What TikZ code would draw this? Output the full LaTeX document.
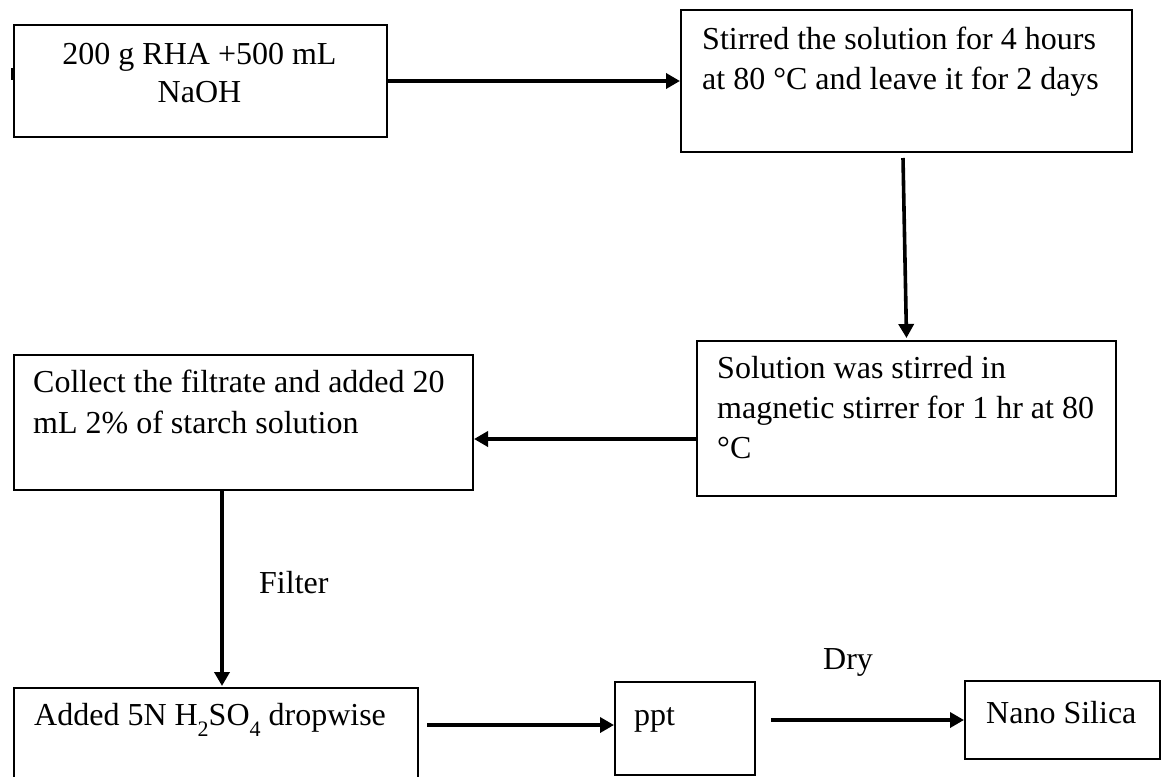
\documentclass[tikz,border=0pt]{standalone}
\usepackage{fontspec}
\setmainfont{Liberation Serif}
\usetikzlibrary{arrows.meta}
% low-set subscript used in the chemical formula
\newcommand{\lowsub}[1]{\raisebox{-11pt}{\fontsize{22pt}{22pt}\selectfont #1}}
\begin{document}
\begin{tikzpicture}[x=1pt,y=-1pt,
  box/.style={draw=black, line width=2pt, anchor=north west, inner sep=0pt},
  txt/.style={anchor=base west, inner sep=0pt, font=\fontsize{32pt}{40pt}\selectfont},
  ctxt/.style={txt, anchor=base},
  flow/.style={line width=3.6pt, -{Triangle[length=14pt,width=15pt]}}]
  \useasboundingbox (0,0) rectangle (1161,776);
  \fill[white] (0,0) rectangle (1161,776);
  \clip (0,0) rectangle (1161,776);

  % process boxes
  \node[box, minimum width=373pt, minimum height=112pt] (b1) at (13,24) {};
  \node[box, minimum width=451pt, minimum height=142pt] (b2) at (680,9) {};
  \node[box, minimum width=419pt, minimum height=155pt] (b3) at (696,340) {};
  \node[box, minimum width=459pt, minimum height=135pt] (b4) at (13,354) {};
  \node[box, minimum width=404pt, minimum height=100pt] (b5) at (13,687) {};
  \node[box, minimum width=140pt, minimum height=93pt]  (b6) at (614,681) {};
  \node[box, minimum width=195pt, minimum height=78pt]  (b7) at (964,680) {};

  % small mark on the left edge of the first box
  \draw[line width=3pt] ([shift={(-0.5pt,13pt)}]b1.west) -- ([shift={(-0.5pt,1pt)}]b1.west);

  % box texts
  \node[ctxt] (t1a) at (199.5,65) {200 g RHA +500 mL};
  \node[ctxt] (t1b) at (199.5,102) {NaOH};
  \node[txt] (t2a) at (702,49) {Stirred the solution for 4 hours};
  \node[txt] (t2b) at (702,89) {at 80 °C and leave it for 2 days};
  \node[txt] (t3a) at (717,378) {Solution was stirred in};
  \node[txt] (t3b) at (717,418) {magnetic stirrer for 1 hr at 80};
  \node[txt] (t3c) at (717,458) {°C};
  \node[txt] (t4a) at (33,392) {Collect the filtrate and added 20};
  \node[txt] (t4b) at (33,433) {mL 2\% of starch solution};
  \node[txt] (t5) at (34,725) {Added 5N H\lowsub{2}SO\lowsub{4} dropwise};
  \node[txt] (t6) at (634,725) {ppt};
  \node[txt] (t7) at (986,723) {Nano Silica};

  % step labels
  \node[txt] (lf) at (259,593) {Filter};
  \node[txt] (ld) at (823,669) {Dry};

  % connectors
  \coordinate (a5) at (427,725);
  \draw[flow] (b1.east) -- (b1.east -| b2.west);
  \draw[flow] ([shift={(-3.5pt,-5pt)}]b2.south) -- ([yshift=2pt]b3.north);
  \draw[flow] ([yshift=-20.5pt]b3.west) -- ([yshift=-20.5pt]b3.west -| b4.east);
  \draw[flow] ([xshift=-21.5pt]b4.south) -- ([xshift=-21.5pt,yshift=1pt]b4.south |- b5.north);
  \draw[flow] (a5) -- (a5 -| b6.west);
  \draw[flow] ([xshift=15pt]b6.east |- b7.west) -- (b7.west);
\end{tikzpicture}
\end{document}
